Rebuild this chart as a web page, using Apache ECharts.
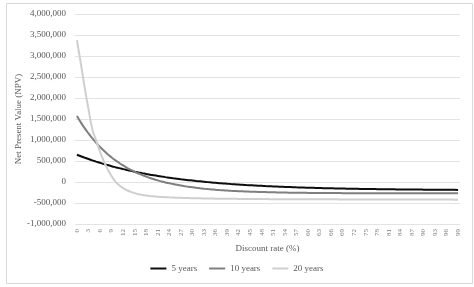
<!DOCTYPE html>
<html>
<head>
<meta charset="utf-8">
<script src="https://cdn.jsdelivr.net/npm/echarts@6/dist/echarts.min.js"></script>
<style>html,body{margin:0;padding:0;background:#fff;}#c{width:474px;height:287px;}</style>
</head>
<body>
<div id="c"></div>
<script>
var categories = [];
for (var i = 0; i <= 99; i++) categories.push(String(i));

var years5 = [650,614,580,547,516,486,457,429,403,377,353,330,307,286,266,246,227,209,192,175,
160,145,130,116,103,90,78,66,55,44,34,24,15,6,-3,-11,-19,-27,-34,-41,
-48,-54,-60,-66,-72,-77,-82,-87,-92,-97,-101,-105,-109,-113,-117,-120,-123,-127,-130,-133,
-136,-138,-141,-143,-146,-148,-150,-152,-154,-156,-158,-160,-162,-163,-165,-166,-168,-169,-170,-172,
-173,-174,-175,-176,-177,-178,-179,-180,-181,-181,-182,-183,-184,-184,-185,-186,-186,-187,-187,-188];

var years10 = [1570,1420,1282,1156,1040,933,835,745,662,586,516,452,394,339,290,244,202,164,128,96,
66,39,14,-10,-31,-50,-68,-85,-100,-114,-126,-138,-149,-159,-168,-176,-184,-191,-197,-203,
-209,-214,-218,-222,-226,-230,-233,-236,-239,-241,-244,-246,-248,-250,-251,-253,-254,-256,-257,-258,
-259,-260,-261,-261,-262,-263,-263,-264,-264,-265,-265,-266,-266,-266,-267,-267,-267,-267,-268,-268,
-268,-268,-268,-269,-269,-269,-269,-269,-269,-269,-270,-270,-270,-270,-270,-270,-270,-270,-270,-270];

var years20 = [3380,2830,2260,1740,1260,990,720,490,300,140,10,-80,-145,-195,-235,-265,-290,-308,-322,-333,
-342,-350,-356,-361,-366,-370,-374,-377,-380,-383,-385,-387,-389,-391,-393,-394,-396,-397,-398,-399,
-400,-401,-402,-403,-404,-405,-406,-406,-407,-407,-408,-408,-409,-409,-410,-410,-410,-411,-411,-411,
-412,-412,-412,-412,-413,-413,-413,-413,-414,-414,-414,-414,-414,-415,-415,-415,-415,-415,-416,-416,
-416,-416,-416,-417,-417,-417,-417,-417,-418,-418,-418,-418,-418,-418,-419,-419,-419,-419,-420,-420];

var seriesNames = ['5 years', '10 years', '20 years'];
var seriesColors = ['#0d0d0d', '#7f7f7f', '#cfcfcf'];

function k(arr) { return arr.map(function (v) { return v * 1000; }); }

var chart = echarts.init(document.getElementById('c'), null, { renderer: 'canvas' });
var font = '"Liberation Serif", "Times New Roman", serif';
chart.setOption({
  animation: false,
  backgroundColor: '#fff',
  textStyle: { fontFamily: font },
  graphic: [{
    type: 'rect', left: 4, top: 1, shape: { width: 466, height: 280 },
    style: { fill: 'none', stroke: '#d9d9d9', lineWidth: 1 }, silent: true
  }],
  grid: { left: 75, width: 385, top: 14, height: 210, containLabel: false },
  legend: {
    bottom: 9, left: 'center', itemWidth: 16, itemHeight: 2, itemGap: 12,
    icon: 'rect',
    textStyle: { fontFamily: font, fontSize: 9, color: '#595959' },
    data: seriesNames
  },
  xAxis: {
    type: 'category', data: categories, boundaryGap: true,
    name: 'Discount rate (%)', nameLocation: 'middle', nameGap: 20,
    nameTextStyle: { fontFamily: font, fontSize: 9, color: '#595959' },
    axisLine: { show: false }, axisTick: { show: false },
    axisLabel: { interval: 2, rotate: 90, fontSize: 7, color: '#7a7a7a', fontFamily: font, margin: 5 }
  },
  yAxis: {
    type: 'value', min: -1000000, max: 4000000, interval: 500000,
    name: 'Net Present Value (NPV)', nameLocation: 'middle', nameGap: 52,
    nameMoveOverlap: false,
    nameTextStyle: { fontFamily: font, fontSize: 9, color: '#595959' },
    axisLine: { show: false }, axisTick: { show: false },
    axisLabel: { fontSize: 9, color: '#595959', fontFamily: font, margin: 9,
      formatter: function (v) { return v.toLocaleString('en-US'); } },
    splitLine: { lineStyle: { color: '#e3e3e3', width: 1 } }
  },
  series: [
    { name: seriesNames[0], type: 'line', data: k(years5), symbol: 'none', smooth: true,
      lineStyle: { color: seriesColors[0], width: 2 }, itemStyle: { color: seriesColors[0] } },
    { name: seriesNames[1], type: 'line', data: k(years10), symbol: 'none', smooth: true,
      lineStyle: { color: seriesColors[1], width: 2 }, itemStyle: { color: seriesColors[1] } },
    { name: seriesNames[2], type: 'line', data: k(years20), symbol: 'none', smooth: true,
      lineStyle: { color: seriesColors[2], width: 2 }, itemStyle: { color: seriesColors[2] } }
  ]
});
</script>
</body>
</html>
